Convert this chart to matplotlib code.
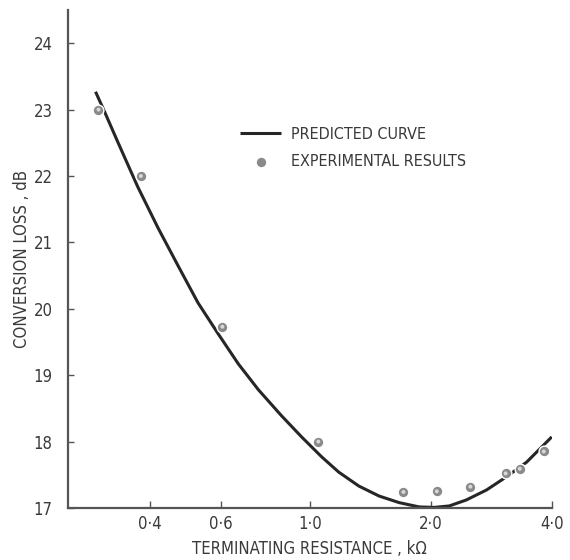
import matplotlib
matplotlib.use('Agg')
import matplotlib.pyplot as plt
from matplotlib.ticker import NullLocator

plt.rcParams['font.family'] = ['DejaVu Sans']
plt.rcParams['font.stretch'] = 'condensed'

# predicted curve (kOhm, dB)
curve_r = [0.293, 0.309, 0.333, 0.373, 0.419, 0.470, 0.527, 0.592, 0.664, 0.745,
           0.850, 0.954, 1.070, 1.180, 1.324, 1.486, 1.668, 1.871, 2.04, 2.224,
           2.452, 2.752, 3.088, 3.464, 4.0]
curve_loss = [23.27, 22.96, 22.51, 21.84, 21.22, 20.65, 20.09, 19.62, 19.17, 18.78,
              18.39, 18.07, 17.77, 17.54, 17.33, 17.18, 17.08, 17.015, 17.008, 17.03,
              17.12, 17.27, 17.47, 17.69, 18.07]

# experimental results
exp_r = [0.298, 0.38, 0.606, 1.05, 1.71, 2.07, 2.51, 3.07, 3.33, 3.82]
exp_loss = [23.0, 22.0, 19.73, 18.0, 17.24, 17.25, 17.32, 17.52, 17.59, 17.85]

xticks = [0.4, 0.6, 1.0, 2.0, 4.0]
xtick_labels = ['0·4', '0·6', '1·0', '2·0', '4·0']
yticks = [17, 18, 19, 20, 21, 22, 23, 24]

ink = '#262626'
txt = '#3a3a3a'

fig = plt.figure(figsize=(5.7, 5.6), dpi=100)
ax = fig.add_axes([0.119, 0.093, 0.849, 0.889])

ax.plot(curve_r, curve_loss, color=ink, lw=2.2, solid_joinstyle='round',
        solid_capstyle='butt', label='PREDICTED CURVE', zorder=2)
ax.scatter(exp_r, exp_loss, s=60, facecolor='#8a8a8a', edgecolor='white',
           linewidths=1.0, zorder=3, label='EXPERIMENTAL RESULTS')
ax.scatter(exp_r, exp_loss, s=8, facecolor='#d8d8d8', edgecolor='none', zorder=4)

ax.set_xscale('log')
ax.set_xlim(0.25, 4.0)
ax.set_ylim(17, 24.5)
ax.xaxis.set_minor_locator(NullLocator())
ax.set_xticks(xticks)
ax.set_xticklabels(xtick_labels)
ax.set_yticks(yticks)

for side in ['top', 'right']:
    ax.spines[side].set_visible(False)
for side in ['left', 'bottom']:
    ax.spines[side].set_color('#555555')
    ax.spines[side].set_linewidth(1.6)

ax.tick_params(axis='x', direction='in', length=5, width=1, colors='#555555',
               labelcolor=txt, labelsize=12, pad=5)
ax.tick_params(axis='y', direction='in', length=4, width=1, colors='#555555',
               labelcolor=txt, labelsize=12, pad=11)

ax.set_xlabel('TERMINATING RESISTANCE , kΩ', fontsize=12, color=txt, labelpad=5)
ax.set_ylabel('CONVERSION LOSS , dB', fontsize=12, color=txt, labelpad=2)

leg = ax.legend(loc='upper left', bbox_to_anchor=(0.326, 0.794), frameon=False,
                handlelength=2.6, handletextpad=0.6, labelspacing=0.75,
                scatterpoints=1, fontsize=11.5, labelcolor=txt)

fig.savefig('out.png', dpi=100)
